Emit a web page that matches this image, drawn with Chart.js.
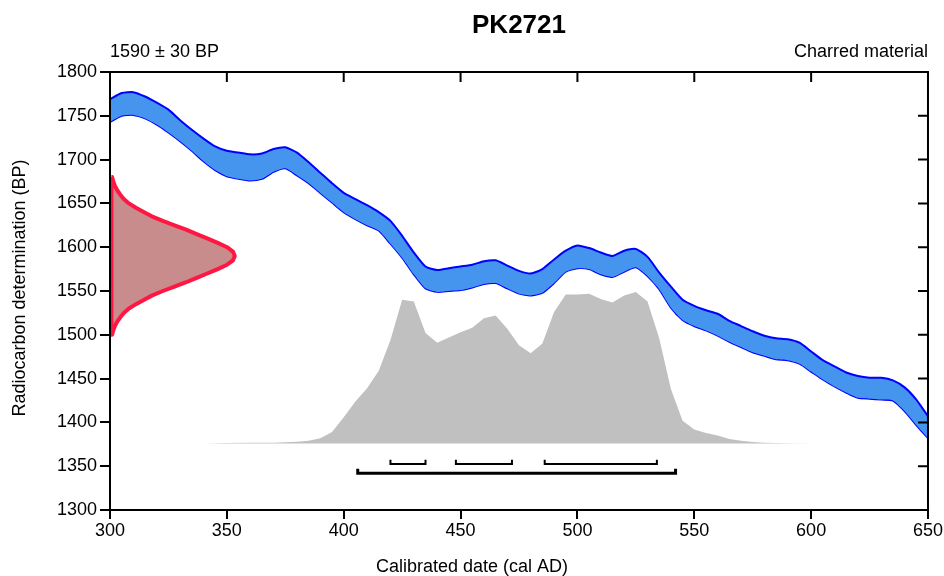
<!DOCTYPE html>
<html>
<head>
<meta charset="utf-8">
<script src="https://cdn.jsdelivr.net/npm/chart.js@4.4.1/dist/chart.umd.min.js"></script>
<style>
  html, body { margin: 0; padding: 0; background: #fff; }
  #wrap { width: 944px; height: 576px; }
</style>
</head>
<body>
<div id="wrap"><canvas id="chart" width="944" height="576"></canvas></div>
<script>
// calibration curve (cal AD vs BP), upper and lower 1-sigma edges
const years = [300, 305, 310, 315, 320, 325, 330, 335, 340, 345, 350, 355, 360, 365, 370, 375, 380, 385, 390, 395,
  400, 405, 410, 415, 420, 425, 430, 435, 440, 445, 450, 455, 460, 465, 470, 475, 480, 485, 490, 495,
  500, 505, 510, 515, 520, 525, 530, 535, 540, 545, 550, 555, 560, 565, 570, 575, 580, 585, 590, 595,
  600, 605, 610, 615, 620, 625, 630, 635, 640, 645, 650];
const curveUpper = [1769, 1776, 1777, 1772, 1765, 1757, 1745, 1734, 1724, 1715, 1710, 1708, 1706, 1707, 1712, 1714, 1708, 1697, 1685, 1673,
  1662, 1655, 1648, 1640, 1630, 1613, 1594, 1578, 1574, 1576, 1578, 1580, 1584, 1585, 1579, 1573, 1570, 1575, 1586, 1596,
  1602, 1599, 1594, 1590, 1596, 1598, 1589, 1571, 1555, 1540, 1533, 1528, 1524, 1516, 1510, 1504, 1499, 1496, 1495, 1491,
  1481, 1471, 1464, 1457, 1453, 1451, 1451, 1448, 1440, 1426, 1407];
const curveLower = [1743, 1750, 1751, 1747, 1740, 1731, 1721, 1710, 1698, 1688, 1681, 1678, 1676, 1678, 1686, 1690, 1682, 1673, 1662, 1651,
  1640, 1632, 1625, 1619, 1604, 1588, 1569, 1553, 1549, 1550, 1551, 1554, 1558, 1559, 1553, 1547, 1545, 1548, 1559, 1572,
  1576, 1575, 1569, 1566, 1572, 1577, 1567, 1552, 1531, 1517, 1510, 1505, 1499, 1492, 1486, 1480, 1476, 1472, 1471, 1467,
  1458, 1449, 1441, 1434, 1428, 1427, 1426, 1425, 1413, 1397, 1382];

// measured radiocarbon age distribution (drawn along the y axis)
const sampleBP = [1680, 1675, 1670, 1665, 1660, 1655, 1650, 1645, 1640, 1635, 1630, 1625, 1620, 1615, 1610, 1605, 1600, 1595, 1590,
  1585, 1580, 1575, 1570, 1565, 1560, 1555, 1550, 1545, 1540, 1535, 1530, 1525, 1520, 1515, 1510, 1505, 1500];
const sampleWidth = [0.3, 0.8, 1.5, 2.5, 3.8, 5.3, 7.5, 10.5, 14, 17.5, 22, 27, 32, 36.5, 41, 45.5, 49.5, 52, 52.8,
  52, 49.5, 45.5, 41, 36.5, 32, 27, 22, 17.5, 14, 10.5, 7.5, 5.3, 3.8, 2.5, 1.5, 0.8, 0.3];

// calibrated date distribution (grey), heights in BP units above the baseline
const postBase = 1376;
const postYears = [340, 350, 360, 370, 380, 385, 390, 395, 400, 405, 410, 415, 420, 425, 430, 435, 440, 445, 450, 455,
  460, 465, 470, 475, 480, 485, 490, 495, 500, 505, 510, 515, 520, 525, 530, 535, 540, 545, 550, 555,
  560, 565, 570, 575, 580, 590, 600];
const postBP = [1376, 1376.4, 1376.7, 1376.9, 1377.8, 1379, 1382, 1389, 1406, 1424, 1439, 1459, 1494, 1540, 1538, 1502, 1491, 1497, 1503, 1508,
  1519, 1522, 1507, 1488, 1479, 1490, 1526, 1546, 1546, 1547, 1541, 1537, 1545, 1549, 1538, 1496, 1438, 1402, 1392, 1388,
  1385, 1381, 1379, 1377.5, 1376.8, 1376.3, 1376];

// ranges
const ranges68 = [[420, 435], [448, 472], [486, 534]];
const ranges95 = [[406, 542]];
const level68 = 1352.5;
const level95 = 1342;
const bracketTick = 5;

const xTicksMin = 300, xTicksMax = 650;
const yTicksMin = 1300, yTicksMax = 1800;

const FONT = "'Liberation Sans', Arial, sans-serif";

function bracketPoints(ranges, level) {
  const pts = [];
  ranges.forEach(([a, b]) => {
    pts.push({x: a, y: level + bracketTick}, {x: a, y: level}, {x: b, y: level}, {x: b, y: level + bracketTick});
    pts.push({x: b, y: null});
  });
  return pts;
}

const samplePoints = [{x: 300.6, y: sampleBP[0]}]
  .concat(sampleBP.map((bp, i) => ({x: 300.6 + sampleWidth[i], y: bp})))
  .concat([{x: 300.6, y: sampleBP[sampleBP.length - 1]}, {x: 300.6, y: sampleBP[0]}]);

const framePlugin = {
  id: 'frame',
  afterDatasetsDraw(chart) {
    const {ctx, chartArea: a, scales: {x, y}} = chart;
    ctx.save();
    ctx.strokeStyle = '#000';
    ctx.lineWidth = 2;
    ctx.strokeRect(a.left, a.top, a.right - a.left, a.bottom - a.top);
    ctx.beginPath();
    x.ticks.forEach(t => {
      const px = x.getPixelForValue(t.value);
      ctx.moveTo(px, a.top);
      ctx.lineTo(px, a.top + 10);
    });
    y.ticks.forEach(t => {
      const py = y.getPixelForValue(t.value);
      ctx.moveTo(a.right, py);
      ctx.lineTo(a.right - 10, py);
    });
    ctx.stroke();
    ctx.restore();
  },
  afterDraw(chart) {
    const {ctx, chartArea: a} = chart;
    ctx.save();
    ctx.fillStyle = '#000';
    ctx.textBaseline = 'alphabetic';
    ctx.font = 'bold 26px ' + FONT;
    ctx.textAlign = 'center';
    ctx.fillText('PK2721', (a.left + a.right) / 2, 33);
    ctx.font = '18px ' + FONT;
    ctx.textAlign = 'left';
    ctx.fillText('1590 \u00b1 30 BP', a.left, 57);
    ctx.textAlign = 'right';
    ctx.fillText('Charred material', a.right, 57);
    ctx.textAlign = 'center';
    ctx.fillText('Calibrated date (cal AD)', 472, 572);
    ctx.translate(25, 288);
    ctx.rotate(-Math.PI / 2);
    ctx.fillText('Radiocarbon determination (BP)', 0, 0);
    ctx.restore();
  }
};

new Chart(document.getElementById('chart'), {
  type: 'line',
  data: {
    datasets: [
      {
        label: 'curve upper',
        data: years.map((yr, i) => ({x: yr, y: curveUpper[i]})),
        borderColor: '#0000ff',
        borderWidth: 2,
        backgroundColor: '#4594ee',
        fill: '+1',
        tension: 0.2,
        pointRadius: 0
      },
      {
        label: 'curve lower',
        data: years.map((yr, i) => ({x: yr, y: curveLower[i]})),
        borderColor: '#0000ff',
        borderWidth: 2,
        fill: false,
        tension: 0.2,
        pointRadius: 0
      },
      {
        label: 'curve edge',
        data: [{x: 300, y: 1800}, {x: 300, y: 1712}],
        borderColor: '#1a1aa0',
        borderWidth: 1.5,
        fill: false,
        pointRadius: 0
      },
      {
        label: 'sample',
        data: samplePoints,
        borderColor: '#ff1744',
        borderWidth: 4,
        borderJoinStyle: 'round',
        backgroundColor: '#c98c8c',
        fill: 'shape',
        tension: 0,
        pointRadius: 0
      },
      {
        label: 'calibrated',
        data: postYears.map((yr, i) => ({x: yr, y: postBP[i]})),
        borderWidth: 0,
        borderColor: 'rgba(0,0,0,0)',
        backgroundColor: '#c0c0c0',
        fill: {value: postBase},
        tension: 0,
        pointRadius: 0
      },
      {
        label: '68.2%',
        data: bracketPoints(ranges68, level68),
        borderColor: '#000',
        borderWidth: 2,
        fill: false,
        spanGaps: false,
        pointRadius: 0
      },
      {
        label: '95.4%',
        data: bracketPoints(ranges95, level95),
        borderColor: '#000',
        borderWidth: 3,
        fill: false,
        spanGaps: false,
        pointRadius: 0
      }
    ]
  },
  options: {
    responsive: false,
    animation: false,
    layout: {padding: {left: 0, right: 16, top: 72, bottom: 0}},
    plugins: {
      legend: {display: false},
      tooltip: {enabled: false}
    },
    scales: {
      x: {
        type: 'linear',
        min: xTicksMin,
        max: xTicksMax,
        afterFit: s => { s.height = 66; },
        ticks: {stepSize: 50, color: '#000', font: {family: FONT, size: 18}, padding: 1, maxRotation: 0,
          callback: v => String(v)},
        grid: {drawOnChartArea: false, drawTicks: true, tickLength: 9, color: '#000', lineWidth: 2},
        border: {display: true, color: '#000', width: 2}
      },
      y: {
        type: 'linear',
        min: yTicksMin,
        max: yTicksMax,
        afterFit: s => { s.width = 110; },
        ticks: {stepSize: 50, color: '#000', font: {family: FONT, size: 18}, padding: 3,
          callback: v => String(v)},
        grid: {drawOnChartArea: false, drawTicks: true, tickLength: 10, color: '#000', lineWidth: 2},
        border: {display: true, color: '#000', width: 2}
      }
    }
  },
  plugins: [framePlugin]
});
</script>
</body>
</html>
